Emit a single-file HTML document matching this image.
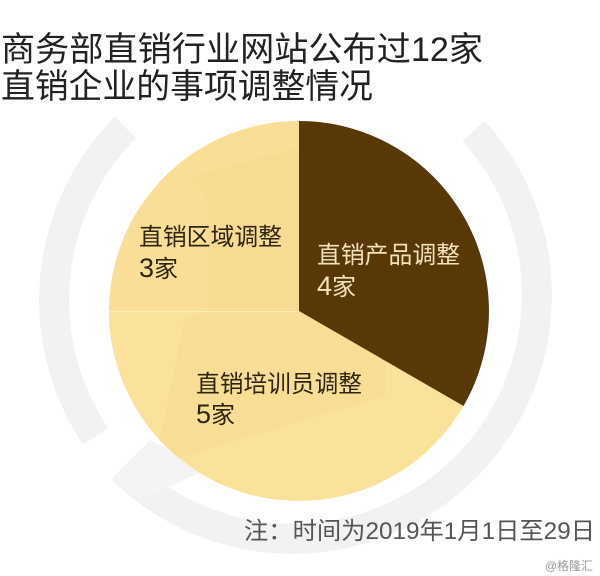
<!DOCTYPE html>
<html>
<head>
<meta charset="utf-8">
<style>
  html, body { margin:0; padding:0; background:#ffffff; }
  body { width:600px; height:576px; overflow:hidden; }
  svg { display:block; }
  text { font-family: "Liberation Sans", "Noto Sans CJK SC", "WenQuanYi Zen Hei", sans-serif; }
</style>
</head>
<body>
<svg width="600" height="576" viewBox="0 0 600 576" xmlns="http://www.w3.org/2000/svg">
  <rect x="0" y="0" width="600" height="576" fill="#ffffff"/>

  <!-- faint watermark ring -->
  <g fill="none" stroke="#f2f2f3" stroke-width="30">
    <path d="M 473.6 130.9 A 244 244 0 0 1 122.5 469.5"/>
    <path d="M 95.7 436.4 A 244 244 0 0 1 125.5 127.5"/>
  </g>
  <polygon points="112,478 150,440 205,470 140,500" fill="#f4f4f5"/>

  <!-- pie -->
  <defs>
    <clipPath id="pieclip">
      <circle cx="299" cy="311" r="190"/>
    </clipPath>
  </defs>
  <path d="M299,311 L109,311 A190,190 0 0 1 299,121 Z" fill="#f9df95"/>
  <path d="M299,311 L463.5,406 A190,190 0 0 1 109,311 Z" fill="#fae29b"/>
  <g clip-path="url(#pieclip)">
    <polygon points="190,177 299,148 299,311 385,360 385,396 152,466 166,410 185,318 207,310 207,197" fill="#f2d486" opacity="0.3"/>
  </g>
  <path d="M299,311 L299,121 A190,190 0 0 1 463.5,406 Z" fill="#573806"/>
  <line x1="109" y1="311.5" x2="299" y2="311.5" stroke="#fff3cf" stroke-width="1" opacity="0.7"/>

  <!-- title -->
  <text x="1" y="61" font-size="34" fill="#222222" textLength="482" lengthAdjust="spacingAndGlyphs">商务部直销行业网站公布过12家</text>
  <text x="1" y="98" font-size="34" fill="#222222" textLength="372" lengthAdjust="spacingAndGlyphs">直销企业的事项调整情况</text>

  <!-- labels -->
  <text x="139" y="245" font-size="24" fill="#2d2412" textLength="143" lengthAdjust="spacingAndGlyphs">直销区域调整</text>
  <text x="139" y="277" font-size="24" fill="#2d2412"><tspan font-size="27">3</tspan>家</text>

  <text x="317" y="263" font-size="24" fill="#f2e2bd" textLength="143" lengthAdjust="spacingAndGlyphs">直销产品调整</text>
  <text x="317" y="295" font-size="24" fill="#f2e2bd"><tspan font-size="27">4</tspan>家</text>

  <text x="196" y="392" font-size="24" fill="#2d2412" textLength="166" lengthAdjust="spacingAndGlyphs">直销培训员调整</text>
  <text x="196" y="423" font-size="24" fill="#2d2412"><tspan font-size="27">5</tspan>家</text>

  <!-- footnote -->
  <text x="244" y="539" font-size="24" fill="#555555" textLength="351" lengthAdjust="spacingAndGlyphs">注：时间为2019年1月1日至29日</text>

  <!-- source watermark -->
  <text x="593" y="570" font-size="12" fill="#9a9a9a" text-anchor="end">@格隆汇</text>
</svg>
</body>
</html>
